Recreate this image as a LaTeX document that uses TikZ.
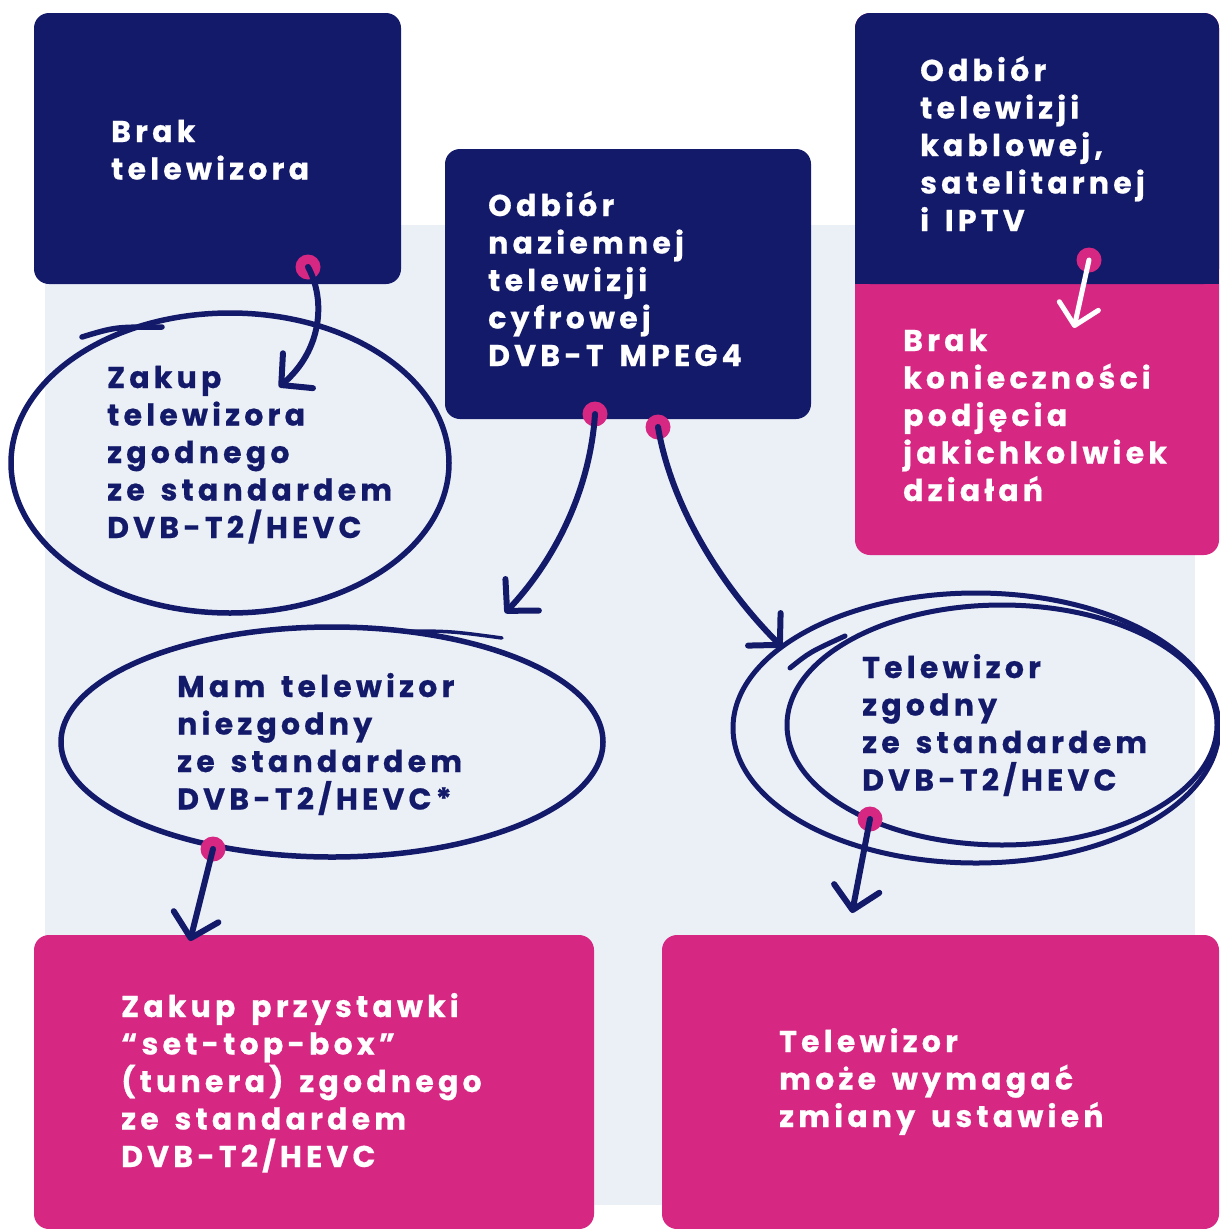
\documentclass[tikz,border=0pt]{standalone}
\usepackage{fontspec}
\usetikzlibrary{arrows.meta}
\newfontfamily\lab[LetterSpace=14,WordSpace=1.5,FakeBold=0.6]{Poppins}
\definecolor{mynavy}{HTML}{131A69}
\definecolor{mypink}{HTML}{D62782}
\definecolor{mypanel}{HTML}{EBF0F7}
\newcommand\mlines[1]{\vtop{\baselineskip=37.5pt\lineskiplimit=-200pt\lineskip=0pt\halign{##\hfil\cr#1\crcr}}}
\begin{document}
\begin{tikzpicture}[x=1pt,y=-1pt,
  boxnode/.style={rectangle, rounded corners=15pt, inner sep=0pt, fill=#1},
  txt/.style={anchor=base west, inner sep=0pt, font=\lab\bfseries\fontsize{30}{37.5}\selectfont},
  ink/.style={draw=mynavy, line width=6pt, line cap=round, line join=round},
  dot/.style={circle, fill=mypink, inner sep=0pt, minimum size=25pt},
  arr/.style={ink, -{Straight Barb[length=22pt,width=46pt,line cap=round,line join=round]}},
  warr/.style={draw=white, line width=5pt, line cap=round, -{Straight Barb[length=20pt,width=40pt,line cap=round,line join=round]}}
]
\useasboundingbox (0,0) rectangle (1219,1229);
\fill[white] (0,0) rectangle (1219,1229);
% background panel
\fill[mypanel] (45,225) rectangle (1195,1205);

% boxes
\node[boxnode=mynavy, minimum width=367pt, minimum height=271pt] (b1) at (217.5,148.5) {};
\node[boxnode=mynavy, minimum width=366pt, minimum height=270pt] (b2) at (628,284) {};
\node[boxnode=mypink, minimum width=364pt, minimum height=542pt] (b3) at (1037,284) {};
\node[boxnode=mynavy, minimum width=364pt, minimum height=271pt] (b3top) at (1037,148.5) {};
\fill[mynavy] (855,255) rectangle (1219,284);
\node[boxnode=mypink, minimum width=560pt, minimum height=294pt] (b4) at (314,1082) {};
\node[boxnode=mypink, minimum width=557pt, minimum height=294pt] (b5) at (940.5,1082) {};

% hand drawn ellipses
\draw[ink, line width=5.5pt] (230,463) ellipse [x radius=219, y radius=150];
\draw[mynavy, line width=5.5pt, line cap=round] (82,337) .. controls (115,327) .. (162,327);
\draw[ink, line width=5.5pt] (332,742) ellipse [x radius=271, y radius=115];
\draw[mynavy, line width=3.5pt, line cap=round] (398,631) .. controls (450,631) .. (502,638);
\draw[ink, line width=5pt] (976,728) ellipse [x radius=243, y radius=135];
\draw[ink, line width=5pt] (1002,725) ellipse [x radius=215, y radius=120];
\draw[ink, line width=5pt] (790,668) .. controls (810,652) .. (845,636);

% texts
\node[txt, text=white] (t1) at (111,142) {\mlines{Brak\cr telewizora}};
\node[txt, text=white] (t2) at (488,216) {\mlines{Odbiór\cr naziemnej\cr telewizji\cr cyfrowej\cr DVB-T MPEG4}};
\node[txt, text=white] (t3) at (920,81) {\mlines{Odbiór\cr telewizji\cr kablowej,\cr satelitarnej\cr i IPTV}};
\node[txt, text=white] (t4) at (903,351) {\mlines{Brak\cr konieczności\cr podjęcia\cr jakichkolwiek\cr działań}};
\node[txt, text=mynavy] (t5) at (107,388) {\mlines{Zakup\cr telewizora\cr zgodnego\cr ze standardem\cr DVB-T2/HEVC}};
\node[txt, text=mynavy] (t6) at (177,697) {\mlines{Mam telewizor\cr niezgodny\cr ze standardem\cr DVB-T2/HEVC*}};
\node[txt, text=mynavy] (t7) at (862,678) {\mlines{Telewizor\cr zgodny\cr ze standardem\cr DVB-T2/HEVC}};
\node[txt, text=white] (t8) at (121,1017) {\mlines{Zakup przystawki\cr “set-top-box”\cr (tunera) zgodnego\cr ze standardem\cr DVB-T2/HEVC}};
\node[txt, text=white] (t9) at (779,1052) {\mlines{Telewizor\cr może wymagać\cr zmiany ustawień}};

% dots
\node[dot] (p1) at (308,267) {};
\node[dot] (p2) at (595,414) {};
\node[dot] (p3) at (658,427) {};
\node[dot] (p4) at (213,849) {};
\node[dot] (p5) at (870,819) {};
\node[dot] (p6) at (1089,260) {};

% arrow ends
\coordinate (e1) at (279,387);
\coordinate (e2) at (505,613);
\coordinate (e3) at (782,647);
\coordinate (e4) at (190,941);
\coordinate (e5) at (852,913);
\coordinate (e6) at (1074,328);

% connectors
\draw[arr] (p1.center) .. controls (326,300) and (322,350) .. (e1);
\draw[arr] (p2.center) .. controls (590,490) and (555,560) .. (e2);
\draw[arr] (p3.center) .. controls (672,510) and (725,590) .. (e3);
\draw[arr] (p4.center) -- (e4);
\draw[arr] (p5.center) -- (e5);
\draw[warr] (p6.center) -- (e6);
\end{tikzpicture}
\end{document}
